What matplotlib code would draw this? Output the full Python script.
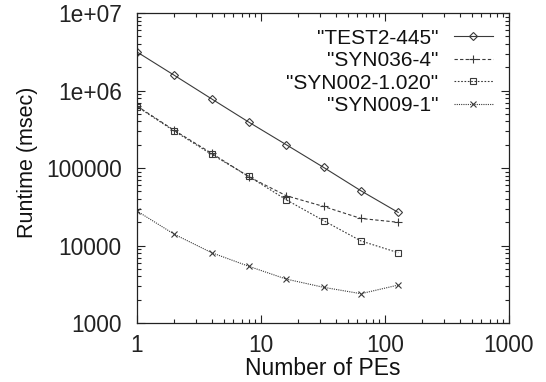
import matplotlib
matplotlib.use("Agg")
import matplotlib.pyplot as plt
from matplotlib.ticker import LogLocator, NullFormatter, FixedLocator, FixedFormatter

plt.rcParams['font.family'] = ['Liberation Sans', 'DejaVu Sans']

pes = [1, 2, 4, 8, 16, 32, 64, 128]
test2_445 = [3.14e6, 1.57e6, 7.8e5, 3.9e5, 2.0e5, 1.02e5, 5.1e4, 2.68e4]
syn036_4 = [6.3e5, 3.06e5, 1.55e5, 7.7e4, 4.4e4, 3.2e4, 2.24e4, 2.0e4]
syn002_1020 = [6.2e5, 3.0e5, 1.5e5, 7.8e4, 3.9e4, 2.1e4, 1.15e4, 8.1e3]
syn009_1 = [2.79e4, 1.4e4, 8.1e3, 5.4e3, 3.7e3, 2.9e3, 2.4e3, 3.1e3]

labels = ['"TEST2-445"', '"SYN036-4"', '"SYN002-1.020"', '"SYN009-1"']
yticks = [1000, 10000, 100000, 1e6, 1e7]
ytick_labels = ['1000', '10000', '100000', '1e+06', '1e+07']
xticks = [1, 10, 100, 1000]
xtick_labels = ['1', '10', '100', '1000']

fig = plt.figure(figsize=(5.46, 3.82), dpi=100)
ax = fig.add_axes([0.251, 0.154, 0.681, 0.812])

c = '#3a3a3a'
ax.plot(pes, test2_445, color=c, lw=0.8, ls='-', marker='D', ms=4, mfc='none', mew=0.8, label=labels[0])
ax.plot(pes, syn036_4, color=c, lw=0.8, ls=(0, (3, 2)), marker='+', ms=6, mew=0.8, label=labels[1])
ax.plot(pes, syn002_1020, color=c, lw=0.8, ls=(0, (1.5, 1.5)), marker='s', ms=4.5, mfc='none', mew=0.8, label=labels[2])
ax.plot(pes, syn009_1, color=c, lw=0.8, ls=(0, (1, 1)), marker='x', ms=4.5, mew=0.8, label=labels[3])

ax.set_xscale('log')
ax.set_yscale('log')
ax.set_xlim(1, 1000)
ax.set_ylim(1000, 1e7)

ax.xaxis.set_major_locator(FixedLocator(xticks))
ax.xaxis.set_major_formatter(FixedFormatter(xtick_labels))
ax.yaxis.set_major_locator(FixedLocator(yticks))
ax.yaxis.set_major_formatter(FixedFormatter(ytick_labels))
ax.xaxis.set_minor_locator(LogLocator(base=10, subs=range(2, 10), numticks=20))
ax.yaxis.set_minor_locator(LogLocator(base=10, subs=range(2, 10), numticks=20))
ax.xaxis.set_minor_formatter(NullFormatter())
ax.yaxis.set_minor_formatter(NullFormatter())

ax.tick_params(which='both', direction='in', top=True, right=True, colors='#222222', labelsize=16.4, width=0.8)
ax.tick_params(which='major', length=6)
ax.tick_params(which='minor', length=3)
ax.tick_params(axis='x', which='major', pad=8)
ax.tick_params(axis='y', which='major', pad=11)
for s in ax.spines.values():
    s.set_linewidth(0.9)
    s.set_color('#222222')

ax.set_xlabel('Number of PEs', fontsize=16.5, color='#111111', labelpad=0)
ax.set_ylabel('Runtime (msec)', fontsize=15.5, color='#111111')
ax.yaxis.set_label_coords(-0.266, 0.52)

leg = ax.legend(loc='upper right', frameon=False, markerfirst=False, prop={'size': 15},
                handlelength=1.9, labelspacing=0.17, handletextpad=0.75,
                borderaxespad=0.45, borderpad=0.3)
for t in leg.get_texts():
    t.set_color('#111111')

fig.savefig('out.png', dpi=100)
